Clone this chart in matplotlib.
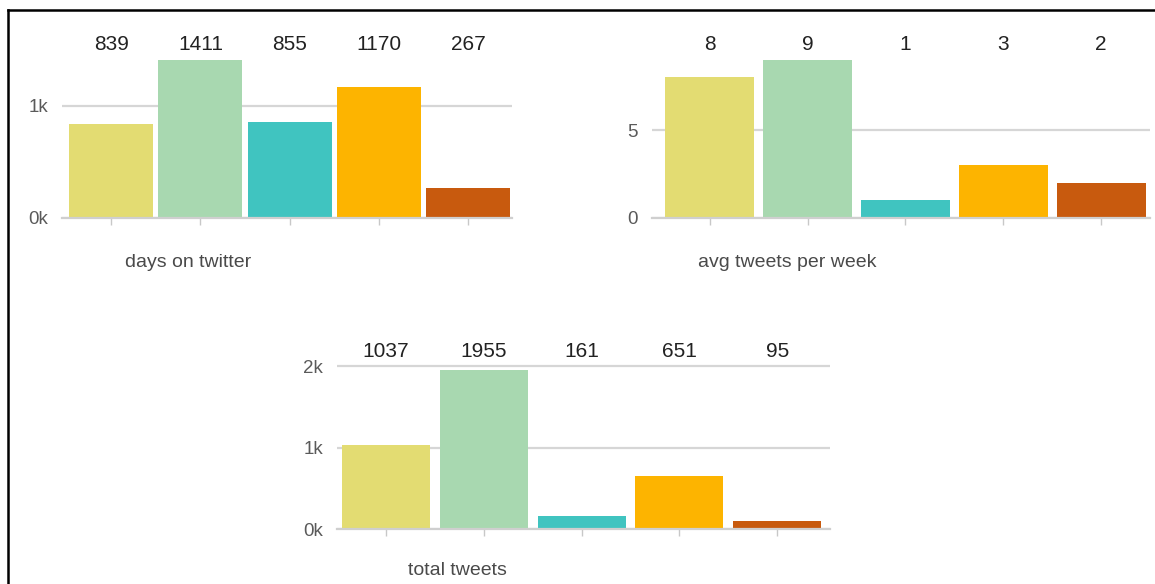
import matplotlib
matplotlib.use("Agg")
from matplotlib import pyplot as plt
from matplotlib.lines import Line2D
from matplotlib.ticker import FuncFormatter

# data
people = ["a", "b", "c", "d", "e"]
days_on_twitter = [839, 1411, 855, 1170, 267]
avg_tweets_per_week = [8, 9, 1, 3, 2]
total_tweets = [1037, 1955, 161, 651, 95]
bar_colors = ["#e3dc72", "#a8d8b0", "#40c4c0", "#fdb400", "#c85a0e"]

plt.rcParams["font.family"] = ["Liberation Sans", "DejaVu Sans"]

W, H = 1155, 584
fig = plt.figure(figsize=(W / 100, H / 100), dpi=100)


def px_axes(left, top, right, bottom):
    return fig.add_axes([left / W, 1 - bottom / H, (right - left) / W, (bottom - top) / H])


def k_fmt(v, pos):
    return "%dk" % round(v / 1000)


def draw_panel(ax, values, title, xlim, ylim, yticks, fmt, label_y, title_x, title_y, width):
    x = list(range(len(values)))
    ax.bar(x, values, width=width, color=bar_colors, zorder=2)
    ax.set_xlim(*xlim)
    ax.set_ylim(*ylim)
    ax.set_yticks(yticks)
    if fmt is not None:
        ax.yaxis.set_major_formatter(FuncFormatter(fmt))
    ax.set_xticks(x)
    ax.set_xticklabels([])
    ax.tick_params(axis="x", length=5, width=1, color="#c8c8c8", direction="out")
    ax.tick_params(axis="y", length=0, pad=10, labelsize=13.5, labelcolor="#5a5a5a")
    ax.grid(axis="y", color="#d6d6d6", linewidth=1.6, zorder=0)
    for s in ["top", "right", "left"]:
        ax.spines[s].set_visible(False)
    ax.spines["bottom"].set_color("#cfcfcf")
    ax.spines["bottom"].set_linewidth(1.6)
    ax.set_facecolor("none")
    for xi, v in zip(x, values):
        ax.text(xi, label_y, str(v), transform=ax.get_xaxis_transform(),
                ha="center", va="center", fontsize=15, color="#222222")
    ax.text(title_x, title_y, title, transform=ax.transAxes, ha="center",
            va="center", fontsize=14, color="#4a4a4a")


ax1 = px_axes(62, 50, 512, 218)
draw_panel(ax1, days_on_twitter, "days on twitter", (-0.55, 4.49), (0, 1500),
           [0, 1000], k_fmt, 1.03, 0.28, -0.262, 0.94)

ax2 = px_axes(652, 50, 1150, 218)
draw_panel(ax2, avg_tweets_per_week, "avg tweets per week", (-0.59, 4.5), (0, 9.55),
           [0, 5], None, 1.03, 0.271, -0.262, 0.91)

ax3 = px_axes(337, 364, 830, 529)
draw_panel(ax3, total_tweets, "total tweets", (-0.5, 4.54), (0, 2025),
           [0, 1000, 2000], k_fmt, 1.073, 0.245, -0.25, 0.9)

# frame lines of the screenshot
fig.add_artist(Line2D([8 / W, 1], [1 - 10 / H, 1 - 10 / H], color="black", linewidth=1.8))
fig.add_artist(Line2D([8 / W, 8 / W], [0, 1 - 10 / H], color="black", linewidth=1.8))

plt.savefig("out.png", dpi=100)
